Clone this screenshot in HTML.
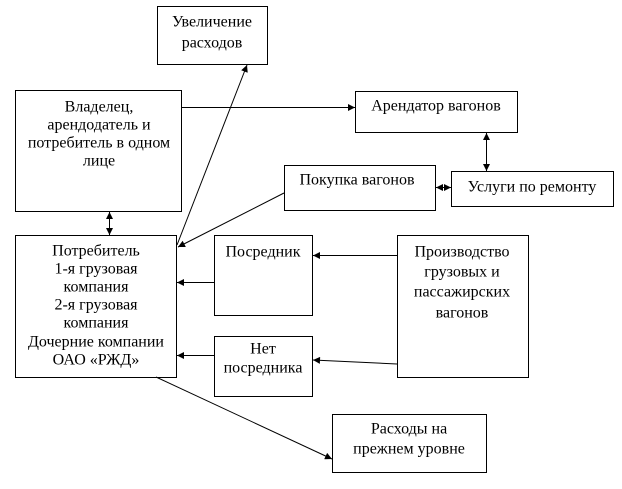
<!DOCTYPE html>
<html><head><meta charset="utf-8"><style>
html,body{margin:0;padding:0;background:#fff;}
svg{display:block;}
text{font-family:"Liberation Serif","DejaVu Serif",serif;font-size:16px;fill:#000;text-anchor:middle;dominant-baseline:central;}
</style></head><body>
<svg width="622" height="489" viewBox="0 0 622 489" xmlns="http://www.w3.org/2000/svg">
<defs>
<marker id="a" viewBox="0 0 10 10" refX="10" refY="5" markerWidth="8" markerHeight="7" orient="auto-start-reverse" markerUnits="userSpaceOnUse">
<path d="M0,0 L10,5 L0,10 z" fill="#000"/>
</marker>
</defs>
<g fill="#fff" stroke="#000" stroke-width="1">
<rect x="157.5" y="6.5" width="110" height="58"/>
<rect x="15.5" y="90.5" width="166" height="121"/>
<rect x="355.5" y="91.5" width="162" height="41"/>
<rect x="284.5" y="165.5" width="151" height="45"/>
<rect x="451.5" y="171.5" width="162" height="35"/>
<rect x="15.5" y="235.5" width="161" height="142"/>
<rect x="214.5" y="235.5" width="98" height="80"/>
<rect x="214.5" y="336.5" width="98" height="60"/>
<rect x="397.5" y="235.5" width="131" height="142"/>
<rect x="332.5" y="414.5" width="154" height="58"/>
</g>
<g stroke="#000" stroke-width="1" fill="none">
<line x1="182" y1="107.5" x2="355" y2="107.5" marker-end="url(#a)"/>
<line x1="486.5" y1="133" x2="486.5" y2="171" marker-start="url(#a)" marker-end="url(#a)"/>
<line x1="436" y1="187.5" x2="451" y2="187.5" marker-start="url(#a)" marker-end="url(#a)"/>
<line x1="109.5" y1="212" x2="109.5" y2="235" marker-start="url(#a)" marker-end="url(#a)"/>
<line x1="177" y1="245" x2="247" y2="65" marker-end="url(#a)"/>
<line x1="284" y1="193" x2="178" y2="247" marker-end="url(#a)"/>
<line x1="214" y1="282.5" x2="177" y2="282.5" marker-end="url(#a)"/>
<line x1="214" y1="355.5" x2="177" y2="355.5" marker-end="url(#a)"/>
<line x1="397" y1="255.5" x2="313" y2="255.5" marker-end="url(#a)"/>
<line x1="397" y1="364" x2="313" y2="360" marker-end="url(#a)"/>
<line x1="156" y1="377" x2="332" y2="459" marker-end="url(#a)"/>
</g>
<text x="212" y="22">Увеличение</text>
<text x="212" y="43">расходов</text>
<text x="99" y="107">Владелец,</text>
<text x="99" y="125">арендодатель и</text>
<text x="99" y="143">потребитель в одном</text>
<text x="99" y="161">лице</text>
<text x="436" y="106">Арендатор вагонов</text>
<text x="357" y="180">Покупка вагонов</text>
<text x="532" y="187">Услуги по ремонту</text>
<text x="96" y="251">Потребитель</text>
<text x="96" y="269">1-я грузовая</text>
<text x="96" y="287">компания</text>
<text x="96" y="305">2-я грузовая</text>
<text x="96" y="323">компания</text>
<text x="96" y="342">Дочерние компании</text>
<text x="96" y="360">ОАО «РЖД»</text>
<text x="263" y="252">Посредник</text>
<text x="263" y="349">Нет</text>
<text x="263" y="368">посредника</text>
<text x="462" y="252">Производство</text>
<text x="462" y="272">грузовых и</text>
<text x="462" y="292">пассажирских</text>
<text x="462" y="313">вагонов</text>
<text x="409" y="429">Расходы на</text>
<text x="409" y="449">прежнем уровне</text>
</svg>
</body></html>
